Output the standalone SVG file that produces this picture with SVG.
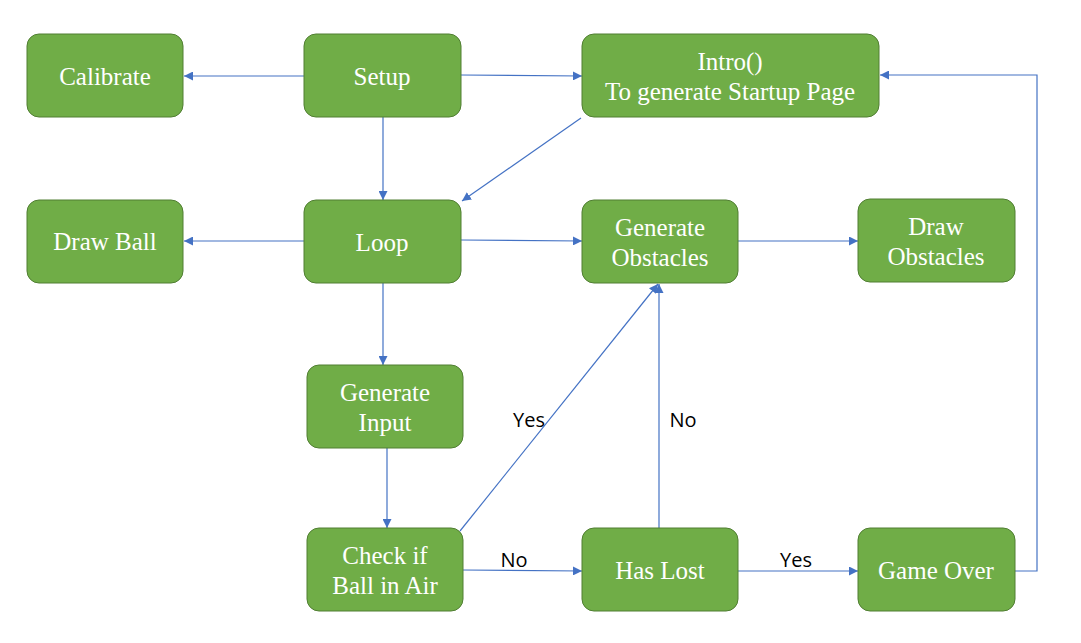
<svg xmlns="http://www.w3.org/2000/svg" width="1081" height="643" viewBox="0 0 1081 643">
<defs>
<marker id="ah" viewBox="0 0 10 10" refX="10" refY="5" markerWidth="9" markerHeight="9" markerUnits="userSpaceOnUse" orient="auto">
<path d="M0,0 L10,5 L0,10 z" fill="#4472C4"/>
</marker>
<style>
.n rect{fill:#70AD47;stroke:#507E32;stroke-width:1}
.n text{fill:#fff;font-family:"Liberation Serif","Times New Roman",serif;font-size:25px;text-anchor:middle}
#connectors line,#connectors polyline{stroke:#4472C4;stroke-width:1.2;fill:none;marker-end:url(#ah)}
.lbl{fill:#000;font-family:"Open Sans","Liberation Sans",sans-serif;font-size:20px;text-anchor:middle}
</style>
</defs>
<rect width="1081" height="643" fill="#fff"/>
<g id="connectors">
<line x1="304" y1="76" x2="184" y2="76"/>
<line x1="461" y1="75" x2="582" y2="76"/>
<line x1="383" y1="117" x2="383" y2="200"/>
<line x1="581" y1="118" x2="462" y2="201"/>
<line x1="304" y1="241" x2="184" y2="241"/>
<line x1="461" y1="240" x2="582" y2="241"/>
<line x1="738" y1="241" x2="858" y2="241"/>
<line x1="383" y1="283" x2="383" y2="365"/>
<line x1="387" y1="448" x2="387" y2="528"/>
<line x1="460" y1="531" x2="658" y2="284"/>
<line x1="659" y1="528" x2="659" y2="284"/>
<line x1="463" y1="570" x2="582" y2="571"/>
<line x1="738" y1="571" x2="858" y2="571"/>
<polyline points="1015,571 1037,571 1037,75 880,75"/>
</g>
<g id="labels">
<text class="lbl" x="529" y="427">Yes</text>
<text class="lbl" x="683" y="427">No</text>
<text class="lbl" x="514" y="567">No</text>
<text class="lbl" x="796" y="567">Yes</text>
</g>
<g id="calibrate" class="n"><rect x="27" y="34" width="156" height="83" rx="12"/><text x="105" y="85">Calibrate</text></g>
<g id="setup" class="n"><rect x="304" y="34" width="157" height="83" rx="12"/><text x="382" y="85">Setup</text></g>
<g id="intro" class="n"><rect x="582" y="34" width="297" height="83" rx="12"/><text x="730" y="70">Intro()</text><text x="730" y="100">To generate Startup Page</text></g>
<g id="drawball" class="n"><rect x="27" y="200" width="156" height="83" rx="12"/><text x="105" y="250">Draw Ball</text></g>
<g id="loop" class="n"><rect x="304" y="200" width="157" height="83" rx="12"/><text x="382" y="251">Loop</text></g>
<g id="genobs" class="n"><rect x="582" y="200" width="156" height="83" rx="12"/><text x="660" y="236">Generate</text><text x="660" y="266">Obstacles</text></g>
<g id="drawobs" class="n"><rect x="858" y="199" width="157" height="83" rx="12"/><text x="936" y="235">Draw</text><text x="936" y="265">Obstacles</text></g>
<g id="geninput" class="n"><rect x="307" y="365" width="156" height="83" rx="12"/><text x="385" y="401">Generate</text><text x="385" y="431">Input</text></g>
<g id="check" class="n"><rect x="307" y="528" width="156" height="83" rx="12"/><text x="385" y="564">Check if</text><text x="385" y="594">Ball in Air</text></g>
<g id="haslost" class="n"><rect x="582" y="528" width="156" height="83" rx="12"/><text x="660" y="579">Has Lost</text></g>
<g id="gameover" class="n"><rect x="858" y="528" width="157" height="83" rx="12"/><text x="936" y="579">Game Over</text></g>
</svg>
